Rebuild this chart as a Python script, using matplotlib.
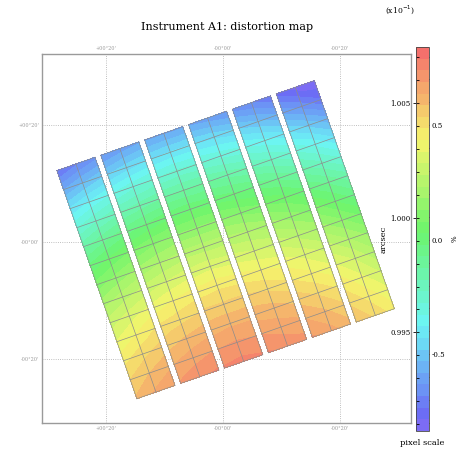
import matplotlib
matplotlib.use('Agg')
import matplotlib.pyplot as plt
import matplotlib.tri as mtri
from matplotlib.colors import LinearSegmentedColormap
from matplotlib.ticker import FixedLocator
import numpy as np

plt.rcParams['font.family'] = 'DejaVu Serif'

# pixel scale at the CCD grid nodes, offset from 1 arcsec in units of 1e-4 arcsec
# one row per node row (top to bottom), three nodes across each CCD
ccd1 = [[-84, -79, -75], [-68, -63, -59], [-52, -47, -43], [-38, -33, -29],
        [-24, -19, -15], [-11, -6, -2], [0, 5, 9], [11, 16, 20], [21, 26, 30],
        [29, 34, 39], [37, 42, 46], [44, 49, 53], [50, 55, 59]]
ccd2 = [[-74, -71, -69], [-58, -55, -53], [-42, -39, -37], [-27, -25, -23],
        [-14, -11, -9], [-1, 2, 4], [10, 13, 15], [21, 24, 26], [31, 34, 36],
        [40, 42, 44], [47, 50, 52], [54, 57, 59], [60, 63, 65]]
ccd3 = [[-69, -69, -69], [-53, -52, -52], [-37, -36, -37], [-22, -22, -22],
        [-9, -8, -9], [4, 4, 4], [16, 16, 16], [26, 27, 26], [36, 37, 36],
        [45, 45, 45], [52, 53, 53], [59, 60, 59], [65, 66, 65]]
ccd4 = [[-69, -71, -74], [-53, -54, -57], [-37, -39, -41], [-22, -24, -27],
        [-9, -11, -13], [4, 2, -1], [15, 14, 11], [26, 24, 22], [36, 34, 32],
        [45, 43, 40], [52, 51, 48], [59, 57, 55], [65, 63, 61]]
ccd5 = [[-75, -78, -83], [-58, -62, -67], [-42, -46, -51], [-28, -32, -37],
        [-14, -18, -23], [-2, -5, -10], [10, 6, 1], [21, 17, 12], [31, 27, 22],
        [39, 35, 30], [47, 43, 38], [54, 50, 45], [60, 56, 51]]
ccd6 = [[-85, -91, -93], [-69, -75, -82], [-53, -59, -66], [-38, -44, -52],
        [-25, -31, -38], [-12, -18, -25], [0, -7, -14], [10, 4, -3], [20, 14, 7],
        [29, 23, 15], [37, 30, 23], [43, 37, 30], [49, 43, 36]]
ccds = [ccd1, ccd2, ccd3, ccd4, ccd5, ccd6]

tick_pos = [20, 0, -20]
tick_labels = ["+00°20'", "-00°00'", "-00°20'"]

# detector layout on the sky (arcmin)
n_ccd = len(ccds)
n_col, n_row = 2, 12
cell = 3.45
gap = 1.05
rot = np.radians(19.3)
x0, y0 = -0.4, 0.4


def node_xy(i):
    a = i * (2 * cell + gap) + np.arange(n_col + 1) * cell
    b = np.arange(n_row + 1) * cell
    A, B = np.meshgrid(a, b)
    A = A - (n_ccd * (2 * cell + gap) - gap) / 2
    B = B - n_row * cell / 2
    X = x0 - A * np.cos(rot) - B * np.sin(rot)
    Y = y0 + A * np.sin(rot) - B * np.cos(rot)
    return X, Y


# washed-out rainbow, violet at the low end
base = plt.get_cmap('gist_rainbow')
cols = base(np.linspace(0.8, 0.03, 256))
cols[:, :3] = 0.96 * (1 - 0.56 * (1 - cols[:, :3]))
cmap = LinearSegmentedColormap.from_list('pale_rainbow', cols)

vmin, vmax = 0.99070, 1.00745
levels = np.linspace(vmin, vmax, 34)

fig = plt.figure(figsize=(4.59, 4.53), dpi=100)
ax = fig.add_axes([42 / 459, 1 - 423 / 453, 369 / 459, 369 / 453])
cax = fig.add_axes([416 / 459, 1 - 431 / 453, 13 / 459, 384 / 453])

tris = []
for r in range(n_row):
    for c in range(n_col):
        n0 = r * (n_col + 1) + c
        tris.append([n0, n0 + 1, n0 + n_col + 2])
        tris.append([n0, n0 + n_col + 2, n0 + n_col + 1])

for i, d in enumerate(ccds):
    X, Y = node_xy(i)
    z = 1 + np.array(d) * 1e-4
    tri = mtri.Triangulation(X.ravel(), Y.ravel(), tris)
    cs = ax.tricontourf(tri, z.ravel(), levels=levels, cmap=cmap)
    for r in range(n_row + 1):
        ax.plot(X[r, :], Y[r, :], color='#8c8c8c', lw=0.5)
    for c in range(n_col + 1):
        ax.plot(X[:, c], Y[:, c], color='#8c8c8c', lw=0.5)

ax.set_xlim(31.0, -32.1)
ax.set_ylim(-31.0, 32.2)
ax.set_xticks(tick_pos)
ax.set_xticklabels(tick_labels)
ax.set_yticks(tick_pos)
ax.set_yticklabels(tick_labels)
ax.tick_params(top=True, labeltop=True, bottom=True, labelbottom=True,
               left=True, labelleft=True, right=False, labelright=False,
               length=0, labelsize=3.5, labelcolor='#999999', pad=2)
ax.grid(True, ls=':', lw=0.6, color='#aaaaaa')
ax.set_axisbelow(True)
for sp in ax.spines.values():
    sp.set_color('#9a9a9a')
    sp.set_linewidth(1.0)

cb = fig.colorbar(cs, cax=cax)
cb.outline.set_linewidth(0.6)
cb.outline.set_edgecolor('#444444')
cax.yaxis.set_ticks_position('left')
cax.yaxis.set_label_position('left')
cb.set_ticks([0.995, 1.000, 1.005])
cb.set_ticklabels(['0.995', '1.000', '1.005'])
cax.yaxis.set_minor_locator(FixedLocator(np.arange(0.991, 1.0075, 0.001)))
cax.tick_params(which='major', direction='inout', length=4, width=0.6,
                labelsize=5, pad=2)
cax.tick_params(which='minor', direction='in', length=2.5, width=0.6)
cax.set_ylabel('arcsec', fontsize=6, labelpad=2)

# second scale: deviation from the nominal pixel scale
v_nom = 0.999043
pax = cax.secondary_yaxis('right', functions=(lambda v: (v / v_nom - 1) * 100,
                                               lambda p: (p / 100 + 1) * v_nom))
pax.set_yticks([-0.5, 0.0, 0.5])
pax.set_yticklabels(['-0.5', '0.0', '0.5'])
pax.yaxis.set_minor_locator(FixedLocator(np.arange(-0.8, 0.85, 0.1)))
pax.tick_params(which='major', direction='in', length=3, width=0.6,
                labelsize=5, pad=2)
pax.tick_params(which='minor', direction='in', length=2.5, width=0.6)
pax.set_ylabel('%', fontsize=5, labelpad=4)
pax.spines['right'].set_visible(False)

fig.text(227 / 459, 1 - 27 / 453, 'Instrument A1: distortion map',
         ha='center', va='center', fontsize=8)
fig.text(400 / 459, 1 - 10 / 453, '(x10$^{-1}$)', ha='center', va='center',
         fontsize=5.5)
fig.text(422 / 459, 1 - 443 / 453, 'pixel scale', ha='center', va='center',
         fontsize=6)

fig.savefig('out.png', dpi=100)
